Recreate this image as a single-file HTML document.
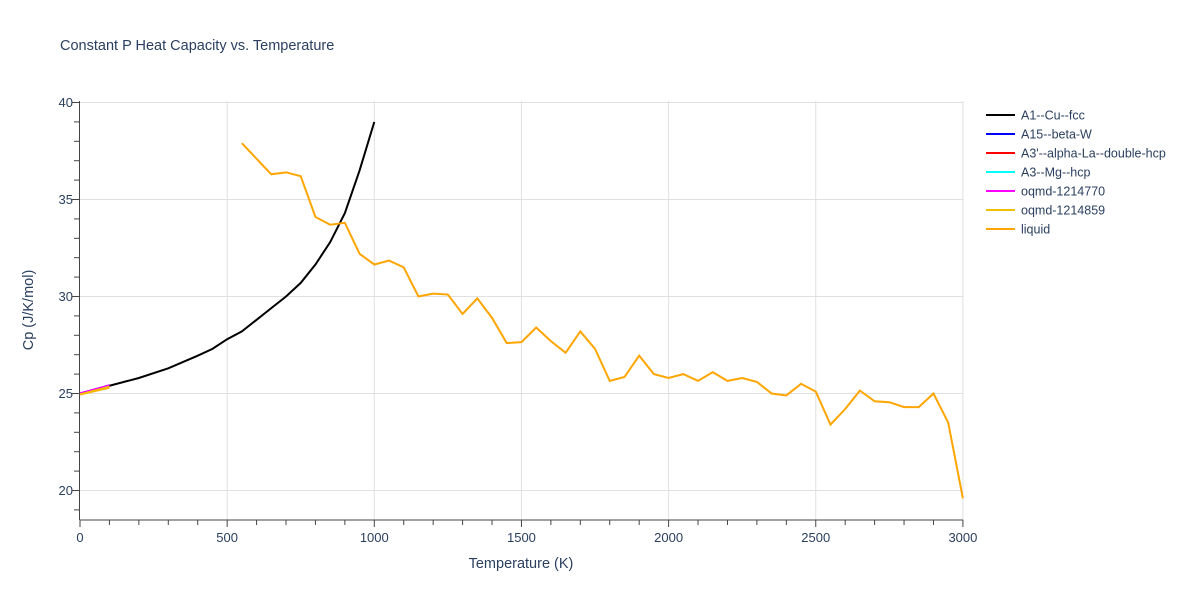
<!DOCTYPE html>
<html><head><style>
body{margin:0;background:#fff;font-family:"Liberation Sans",Arial,sans-serif;}
svg text{font-family:"Liberation Sans",Arial,sans-serif;fill:#2a3f5f;}
</style></head><body>
<svg id="s" width="1200" height="600" xmlns="http://www.w3.org/2000/svg"></svg>
<script>
const s=document.getElementById('s');
const X=t=>80+t*0.2943, Y=c=>393.5-(c-25)*19.4;
let h='';
h+='<text x="60" y="50" font-size="14.5">Constant P Heat Capacity vs. Temperature</text>';
for(let t=0;t<=3000;t+=500){const x=X(t);if(t>0)h+=`<line x1="${x}" y1="101" x2="${x}" y2="520" stroke="#e0e0e0"/>`;h+=`<text x="${x}" y="542" font-size="13" text-anchor="middle">${t}</text>`;}
for(let c=20;c<=40;c+=5){const y=Y(c);h+=`<line x1="80" y1="${y}" x2="963" y2="${y}" stroke="#e0e0e0"/><text x="73" y="${y+4.5}" font-size="13" text-anchor="end">${c}</text>`;}
for(let t=0;t<=3000;t+=100){const x=X(t);h+=`<line x1="${x}" y1="520" x2="${x}" y2="${t%500?525:527}" stroke="#444"/>`;}
for(let c=19;c<=40;c++){const y=Y(c);h+=`<line x1="79.5" y1="${y}" x2="${c%5?74:72}" y2="${y}" stroke="#444"/>`;}
h+='<line x1="79.5" y1="101" x2="79.5" y2="520" stroke="#444"/><line x1="79.5" y1="520" x2="963" y2="520" stroke="#444"/>';
h+='<text x="521" y="568" font-size="14.5" text-anchor="middle">Temperature (K)</text>';
h+='<text transform="translate(33,310) rotate(-90)" font-size="14.5" text-anchor="middle">Cp (J/K/mol)</text>';
const pl=(d,col)=>`<polyline fill="none" stroke="${col}" stroke-width="2" points="${d.map(p=>X(p[0])+','+Y(p[1])).join(' ')}"/>`;
const liq=[[550,37.9],[600,37.1],[650,36.3],[700,36.4],[750,36.2],[800,34.1],[850,33.7],[900,33.8],[950,32.2],[1000,31.65],[1050,31.85],[1100,31.5],[1150,30.0],[1200,30.15],[1250,30.1],[1300,29.1],[1350,29.9],[1400,28.9],[1450,27.6],[1500,27.65],[1550,28.4],[1600,27.7],[1650,27.1],[1700,28.2],[1750,27.3],[1800,25.65],[1850,25.85],[1900,26.95],[1950,26.0],[2000,25.8],[2050,26.0],[2100,25.65],[2150,26.1],[2200,25.65],[2250,25.8],[2300,25.6],[2350,25.0],[2400,24.9],[2450,25.5],[2500,25.1],[2550,23.4],[2600,24.2],[2650,25.15],[2700,24.6],[2750,24.55],[2800,24.3],[2850,24.3],[2900,25.0],[2950,23.5],[3000,19.6]];
const cu=[[0,25],[100,25.4],[200,25.8],[300,26.3],[400,26.95],[450,27.3],[500,27.8],[550,28.2],[600,28.8],[650,29.4],[700,30.0],[750,30.7],[800,31.65],[850,32.8],[900,34.3],[950,36.5],[1000,39.0]];
h+=pl(cu,'#000');
h+=pl([[0,25],[100,25.42]],'#00f');
h+=pl([[0,25],[100,25.42]],'#f0f');
h+=pl([[0,24.95],[100,25.3]],'#ffa500');
h+=pl([[0,24.95],[100,25.35]],'#f0c000');
h+=pl(liq,'#ffa500');
const L=[['A1--Cu--fcc','#000'],['A15--beta-W','#00f'],["A3'--alpha-La--double-hcp",'#f00'],['A3--Mg--hcp','#0ff'],['oqmd-1214770','#f0f'],['oqmd-1214859','#f0c000'],['liquid','#ffa500']];
L.forEach((l,i)=>{const y=115+i*19;h+=`<line x1="986" y1="${y}" x2="1015" y2="${y}" stroke="${l[1]}" stroke-width="2"/><text x="1021" y="${y+4.5}" font-size="12.5">${l[0]}</text>`;});
s.innerHTML=h;
</script>
</body></html>
